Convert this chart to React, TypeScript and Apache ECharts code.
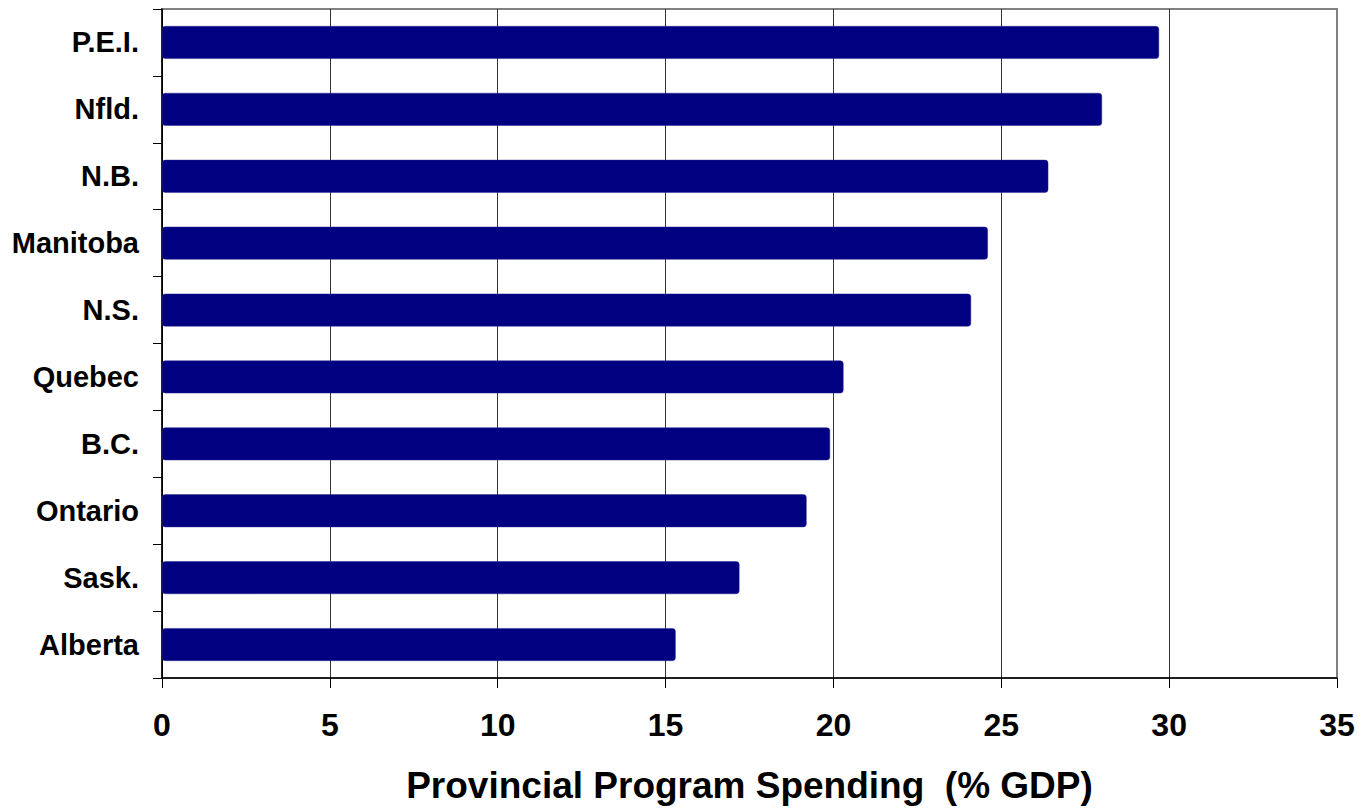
import React, { useEffect, useRef } from "react";
import * as echarts from "echarts";

const provinces = ["P.E.I.", "Nfld.", "N.B.", "Manitoba", "N.S.", "Quebec", "B.C.", "Ontario", "Sask.", "Alberta"];
const spending = [29.7, 28.0, 26.4, 24.6, 24.1, 20.3, 19.9, 19.2, 17.2, 15.3];
const axisTitle = "Provincial Program Spending  (% GDP)";

export default function App() {
  const ref = useRef<HTMLDivElement>(null);
  useEffect(() => {
    if (!ref.current) return;
    const chart = echarts.init(ref.current, null, { renderer: "svg" });
    const font = "'Liberation Sans', Arial, Helvetica, sans-serif";
    chart.setOption({
      animation: false,
      textStyle: { fontFamily: font },
      grid: {
        left: 162,
        top: 9,
        right: 26,
        bottom: 129,
        show: true,
        borderColor: "#808080",
        borderWidth: 2,
        backgroundColor: "transparent",
      },
      xAxis: {
        type: "value",
        min: 0,
        max: 35,
        interval: 5,
        name: axisTitle,
        nameLocation: "middle",
        nameGap: 89,
        nameTextStyle: { fontSize: 37, fontWeight: "bold", color: "#000", fontFamily: font },
        axisLine: { show: true, lineStyle: { color: "#000", width: 1.5 } },
        axisTick: { show: true, length: 10, lineStyle: { color: "#000" } },
        axisLabel: { fontSize: 32, fontWeight: "bold", color: "#000", margin: 31, fontFamily: font },
        splitLine: {
          show: true,
          lineStyle: {
            color: ["#000", "#333", "#333", "#333", "#333", "#333", "#333", "#808080"],
            width: 1,
          },
        },
      },
      yAxis: {
        type: "category",
        data: provinces,
        inverse: true,
        axisLine: { show: true, lineStyle: { color: "#000", width: 1.5 } },
        axisTick: { show: true, length: 9, alignWithLabel: false, lineStyle: { color: "#000" } },
        axisLabel: { fontSize: 29, fontWeight: "bold", color: "#000", margin: 23, fontFamily: font },
        splitLine: { show: false },
      },
      series: [
        {
          type: "bar",
          data: spending,
          barWidth: "49%",
          itemStyle: { color: "#000080", borderRadius: 3, borderColor: "#2a2a95", borderWidth: 0.5 },
        },
      ],
    });
    return () => chart.dispose();
  }, []);
  return (
    <div
      ref={ref}
      style={{ position: "fixed", left: 0, top: 0, width: 1363, height: 809, background: "#fff" }}
    />
  );
}
